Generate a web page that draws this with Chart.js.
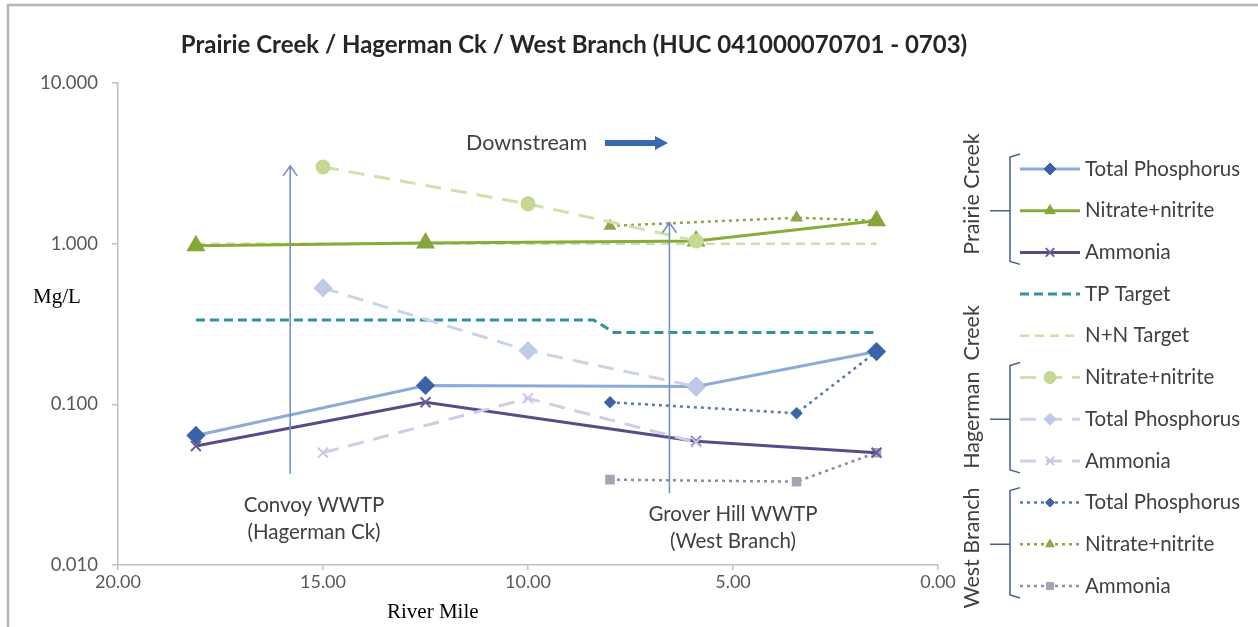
<!DOCTYPE html>
<html>
<head>
<meta charset="utf-8">
<script src="https://cdn.jsdelivr.net/npm/chart.js@4.4.1/dist/chart.umd.min.js"></script>
<style>
  html, body { margin: 0; padding: 0; background: #ffffff; }
  #wrap { width: 1258px; height: 627px; position: relative; }
</style>
</head>
<body>
<div id="wrap"><canvas id="c" width="1258" height="627"></canvas></div>
<script>
// River miles of the sampling sites and measured concentrations (mg/L)
const prairieMiles = [18.1, 12.5, 5.9, 1.5];
const prairieTP    = [0.064, 0.131, 0.129, 0.213];
const prairieNN    = [0.97, 1.01, 1.04, 1.39];
const prairieNH3   = [0.055, 0.103, 0.059, 0.050];

const hagermanMiles = [15.0, 10.0, 5.9];
const hagermanNN    = [3.0, 1.77, 1.04];
const hagermanTP    = [0.53, 0.216, 0.129];
const hagermanNH3   = [0.050, 0.109, 0.058];

const westMiles = [8.0, 3.45, 1.5];
const westTP    = [0.103, 0.088, 0.213];
const westNN    = [1.29, 1.45, 1.39];
const westNH3   = [0.034, 0.033, 0.050];

// Water quality targets
const tpTargetMiles = [18.1, 8.4, 7.9, 1.5];
const tpTarget      = [0.335, 0.335, 0.28, 0.28];
const nnTargetMiles = [18.1, 1.5];
const nnTarget      = [1.0, 1.0];

// Axis ticks
const yTickValues = [0.01, 0.1, 1, 10];
const xTickValues = [20, 15, 10, 5, 0];

// Treatment plant outfalls: river mile and vertical extent of the marker arrow (mg/L)
const plantMiles  = [15.8, 6.55];
const plantArrowLow  = [0.037, 0.028];
const plantArrowHigh = [3.05, 1.35];
const plantNames = [["Convoy WWTP", "(Hagerman Ck)"], ["Grover Hill WWTP", "(West Branch)"]];

const pts = (xs, ys) => xs.map((x, i) => ({ x: x, y: ys[i] }));

const FONT = "Lato, 'Open Sans', sans-serif";

const datasets = [
  { label: 'Total Phosphorus', data: pts(prairieMiles, prairieTP), borderColor: '#8eaad8', backgroundColor: '#3b64a6',
    pointBorderColor: '#3b64a6', borderWidth: 3, pointStyle: 'rectRot', pointRadius: 7.5, order: 3 },
  { label: 'Nitrate+nitrite', data: pts(prairieMiles, prairieNN), borderColor: '#8aab3a', backgroundColor: '#86a63a',
    pointBorderColor: '#86a63a', borderWidth: 3, pointStyle: 'triangle', pointRadius: 8, order: 3 },
  { label: 'Ammonia', data: pts(prairieMiles, prairieNH3), borderColor: '#5b4a8a', backgroundColor: '#6d5c98',
    pointBorderColor: '#6d5c98', borderWidth: 3, pointStyle: 'crossRot', pointRadius: 7, pointBorderWidth: 2, order: 3 },
  { label: 'TP Target', data: pts(tpTargetMiles, tpTarget), borderColor: '#31919e', backgroundColor: '#31919e',
    borderWidth: 3, borderDash: [9, 5], pointRadius: 0, order: 8 },
  { label: 'N+N Target', data: pts(nnTargetMiles, nnTarget), borderColor: '#cfdea9', backgroundColor: '#cfdea9',
    borderWidth: 2.5, borderDash: [9, 6], pointRadius: 0, order: 9 },
  { label: 'Nitrate+nitrite', data: pts(hagermanMiles, hagermanNN), borderColor: '#d2e0ad', backgroundColor: '#c6d893',
    pointBorderColor: '#c6d893', borderWidth: 3, borderDash: [16, 10], pointStyle: 'circle', pointRadius: 6, order: 1 },
  { label: 'Total Phosphorus', data: pts(hagermanMiles, hagermanTP), borderColor: '#c9d3ea', backgroundColor: '#bfcae4',
    pointBorderColor: '#bfcae4', borderWidth: 3, borderDash: [16, 10], pointStyle: 'rectRot', pointRadius: 7.5, order: 1 },
  { label: 'Ammonia', data: pts(hagermanMiles, hagermanNH3), borderColor: '#d3cbe6', backgroundColor: '#cdc3e2',
    pointBorderColor: '#cdc3e2', borderWidth: 3, borderDash: [16, 10], pointStyle: 'crossRot', pointRadius: 7, pointBorderWidth: 2, order: 1 },
  { label: 'Total Phosphorus', data: pts(westMiles, westTP), borderColor: '#5a78ad', backgroundColor: '#3e64a6',
    pointBorderColor: '#3e64a6', borderWidth: 2.5, borderDash: [3, 4], pointStyle: 'rectRot', pointRadius: 4.5, order: 5 },
  { label: 'Nitrate+nitrite', data: pts(westMiles, westNN), borderColor: '#90a64c', backgroundColor: '#90a64c',
    pointBorderColor: '#90a64c', borderWidth: 2.5, borderDash: [3, 4], pointStyle: 'triangle', pointRadius: 5, order: 5 },
  { label: 'Ammonia', data: pts(westMiles, westNH3), borderColor: '#8a8da6', backgroundColor: '#a4a4b4',
    pointBorderColor: '#a4a4b4', borderWidth: 2.5, borderDash: [3, 4], pointStyle: 'rect', pointRadius: 5, order: 5 }
];
datasets.forEach(d => { d.fill = false; d.tension = 0; d.pointHoverRadius = d.pointRadius; });

// Legend layout: groups of dataset indices with a bracket and a rotated caption
const legendGroups = [
  { caption: 'Prairie Creek', members: [0, 1, 2], captionY: 194 },
  { caption: 'Hagerman  Creek', members: [5, 6, 7], captionY: 387 },
  { caption: 'West Branch', members: [8, 9, 10], captionY: 548 }
];

const decorations = {
  id: 'decorations',
  beforeDraw(chart) {
    const ctx = chart.ctx;
    ctx.save();
    ctx.fillStyle = '#ffffff';
    ctx.fillRect(0, 0, chart.width, chart.height);
    ctx.strokeStyle = '#b4b4b4';
    ctx.lineWidth = 2.5;
    ctx.strokeRect(8, 5, chart.width + 20, chart.height + 20);
    ctx.restore();
  },
  afterDatasetsDraw(chart) {
    const ctx = chart.ctx;
    const xs = chart.scales.x, ys = chart.scales.y;
    ctx.save();
    // Outfall arrows
    ctx.strokeStyle = '#7492c4';
    ctx.lineWidth = 1.6;
    plantMiles.forEach((m, i) => {
      const px = xs.getPixelForValue(m);
      const top = ys.getPixelForValue(plantArrowHigh[i]);
      const bot = ys.getPixelForValue(plantArrowLow[i]);
      ctx.beginPath();
      ctx.moveTo(px, bot); ctx.lineTo(px, top);
      ctx.moveTo(px - 7, top + 10); ctx.lineTo(px, top); ctx.lineTo(px + 7, top + 10);
      ctx.stroke();
    });
    ctx.restore();
  },
  afterDraw(chart) {
    const ctx = chart.ctx;
    ctx.save();
    // Title
    ctx.fillStyle = '#262626';
    ctx.font = `bold 24px ${FONT}`;
    ctx.textAlign = 'center';
    ctx.textBaseline = 'middle';
    ctx.fillText('Prairie Creek / Hagerman Ck / West Branch (HUC 041000070701 - 0703)', 574, 45);

    // Axis captions
    ctx.fillStyle = '#000000';
    ctx.font = "21px 'Liberation Serif', 'Times New Roman', serif";
    ctx.textAlign = 'left';
    ctx.fillText('Mg/L', 33, 297);
    ctx.fillText('River Mile', 387, 612);

    // Flow direction note
    ctx.fillStyle = '#404040';
    ctx.font = `21.5px ${FONT}`;
    ctx.fillText('Downstream', 466, 143);
    ctx.fillStyle = '#3a68b0';
    ctx.beginPath();
    ctx.moveTo(605, 140); ctx.lineTo(655, 140); ctx.lineTo(655, 136);
    ctx.lineTo(668, 143); ctx.lineTo(655, 150); ctx.lineTo(655, 146);
    ctx.lineTo(605, 146); ctx.closePath();
    ctx.fill();

    // Outfall captions
    ctx.fillStyle = '#404040';
    ctx.font = `20.5px ${FONT}`;
    ctx.textAlign = 'center';
    const capY = [[505, 532], [514, 541]];
    const capX = [314, 733];
    plantNames.forEach((lines, i) => {
      lines.forEach((t, k) => ctx.fillText(t, capX[i], capY[i][k]));
    });

    // Legend
    const rowY0 = 169, rowStep = 41.7;
    const sx0 = 1020, sx1 = 1080, tx = 1085;
    chart.data.datasets.forEach((ds, i) => {
      const y = rowY0 + i * rowStep;
      ctx.save();
      ctx.strokeStyle = ds.borderColor;
      ctx.lineWidth = ds.borderWidth;
      ctx.setLineDash(ds.borderDash || []);
      ctx.beginPath(); ctx.moveTo(sx0, y); ctx.lineTo(sx1, y); ctx.stroke();
      ctx.setLineDash([]);
      if (ds.pointRadius > 0) {
        ctx.fillStyle = ds.backgroundColor;
        ctx.strokeStyle = ds.pointBorderColor || ds.borderColor;
        ctx.lineWidth = ds.pointBorderWidth || 1;
        Chart.helpers.drawPoint(ctx, { pointStyle: ds.pointStyle, radius: Math.min(ds.pointRadius, 6), borderWidth: ds.pointBorderWidth || 1, rotation: 0 }, (sx0 + sx1) / 2, y);
      }
      ctx.restore();
      ctx.fillStyle = '#404040';
      ctx.font = `20.5px ${FONT}`;
      ctx.textAlign = 'left';
      ctx.textBaseline = 'middle';
      ctx.fillText(ds.label, tx, y);
    });

    // Group brackets and rotated captions
    ctx.strokeStyle = '#4a5f8c';
    ctx.lineWidth = 1.5;
    legendGroups.forEach(g => {
      const yTop = rowY0 + g.members[0] * rowStep - 15;
      const yBot = rowY0 + g.members[g.members.length - 1] * rowStep + 12;
      const yMid = rowY0 + g.members[1] * rowStep;
      ctx.beginPath();
      ctx.moveTo(1020, yTop); ctx.lineTo(1010, yTop + 3); ctx.lineTo(1010, yBot - 3); ctx.lineTo(1020, yBot);
      ctx.moveTo(1010, yMid); ctx.lineTo(990, yMid);
      ctx.stroke();
      ctx.save();
      ctx.translate(972, g.captionY);
      ctx.rotate(-Math.PI / 2);
      ctx.fillStyle = '#404040';
      ctx.font = `21.5px ${FONT}`;
      ctx.textAlign = 'center';
      ctx.textBaseline = 'middle';
      ctx.fillText(g.caption, 0, 0);
      ctx.restore();
    });
    ctx.restore();
  }
};

new Chart(document.getElementById('c'), {
  type: 'line',
  data: { datasets: datasets },
  plugins: [decorations],
  options: {
    responsive: false,
    animation: false,
    layout: { padding: { top: 83, right: 320, left: 0, bottom: 0 } },
    plugins: { legend: { display: false }, tooltip: { enabled: false }, title: { display: false } },
    scales: {
      x: {
        type: 'linear', reverse: true, min: 0, max: 20,
        afterBuildTicks: s => { s.ticks = xTickValues.map(v => ({ value: v })); },
        afterFit: s => { s.height = 62; },
        ticks: { callback: v => Number(v).toFixed(2), color: '#595959', font: { family: FONT, size: 18 }, padding: 1, maxRotation: 0, autoSkip: false },
        grid: { drawOnChartArea: false, drawTicks: true, tickLength: 5, color: '#c0c0c0', lineWidth: 1.5 },
        border: { color: '#c0c0c0', width: 1.5 }
      },
      y: {
        type: 'logarithmic', min: 0.01, max: 10,
        afterBuildTicks: s => { s.ticks = yTickValues.map(v => ({ value: v })); },
        afterFit: s => { s.width = 118; },
        ticks: { callback: v => Number(v).toFixed(3), color: '#595959', font: { family: FONT, size: 18.5 }, padding: 14, autoSkip: false },
        grid: { drawOnChartArea: false, drawTicks: true, tickLength: 6, color: '#c0c0c0', lineWidth: 1.5 },
        border: { color: '#c0c0c0', width: 1.5 }
      }
    }
  }
});
</script>
</body>
</html>
